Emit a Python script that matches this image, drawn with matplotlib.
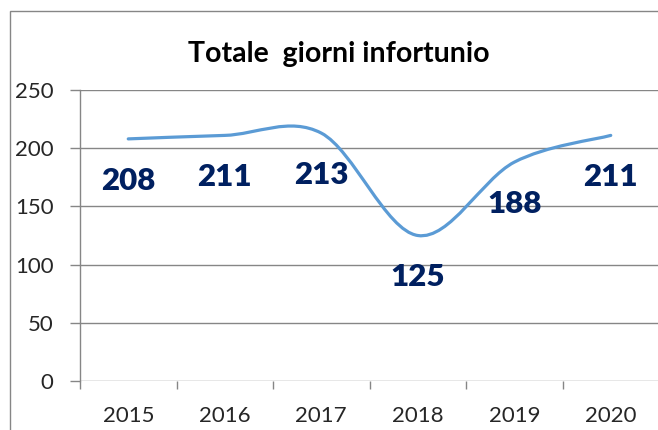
import matplotlib
matplotlib.use("Agg")
import matplotlib.pyplot as plt
from matplotlib.path import Path
from matplotlib.patches import PathPatch, Rectangle

# dati
anni = ["2015", "2016", "2017", "2018", "2019", "2020"]
giorni = [208, 211, 213, 125, 188, 211]

plt.rcParams['font.family'] = ['Lato', 'DejaVu Sans']

fig = plt.figure(figsize=(6.58, 4.30), dpi=100)
ax = fig.add_axes([80 / 658, 49 / 430, 579 / 658, 291 / 430])

grigio = '#868686'

# curva smussata tipo Excel (Bezier con tangenti Catmull-Rom)
n = len(giorni)
xs = list(range(n))
verts = [(xs[0], giorni[0])]
codes = [Path.MOVETO]
for i in range(n - 1):
    y0 = giorni[i - 1] if i > 0 else giorni[i]
    y3 = giorni[i + 2] if i + 2 < n else giorni[i + 1]
    x0 = xs[i - 1] if i > 0 else xs[i]
    x3 = xs[i + 2] if i + 2 < n else xs[i + 1]
    t1 = ((xs[i + 1] - x0) / 6, (giorni[i + 1] - y0) / 6)
    t2 = ((x3 - xs[i]) / 6, (y3 - giorni[i]) / 6)
    verts += [(xs[i] + t1[0], giorni[i] + t1[1]),
              (xs[i + 1] - t2[0], giorni[i + 1] - t2[1]),
              (xs[i + 1], giorni[i + 1])]
    codes += [Path.CURVE4] * 3
curva = PathPatch(Path(verts, codes), fill=False, edgecolor='#5B9BD5',
                  lw=2.3, capstyle='round', joinstyle='round', zorder=3)
ax.add_patch(curva)

for i, v in enumerate(giorni):
    ax.annotate(str(v), (i, v), xytext=(0, -30), textcoords='offset points',
                ha='center', va='center', fontsize=22.5, fontweight='heavy',
                color='#002060', zorder=4)

ax.set_xlim(-0.5, n - 0.5)
ax.set_ylim(0, 250)
ax.set_yticks(range(0, 251, 50))
ax.set_xticks(xs)
ax.set_xticklabels(anni)
ax.set_xticks([i - 0.5 for i in range(n + 1)], minor=True)

ax.grid(axis='y', color=grigio, lw=1)
ax.set_axisbelow(True)
for s in ['top', 'right', 'bottom']:
    ax.spines[s].set_visible(False)
ax.spines['left'].set_color(grigio)
ax.spines['left'].set_linewidth(1)

ax.tick_params(axis='y', length=7.2, width=1, color=grigio, pad=12,
               labelsize=16, labelcolor='#262626')
ax.tick_params(axis='x', which='major', length=0, pad=18,
               labelsize=16, labelcolor='#262626')
ax.tick_params(axis='x', which='minor', length=6, width=1, color=grigio)

fig.text(339 / 658, 1 - 62 / 430, "Totale  giorni infortunio", ha='center',
         va='baseline', fontsize=20.5, fontweight='bold', color='black')

# bordo del grafico
fig.patches.append(Rectangle((10 / 658, -0.1), 1.2, 1 - 11 / 430 + 0.1,
                             transform=fig.transFigure, fill=False,
                             edgecolor=grigio, lw=1))

fig.savefig("out.png", dpi=100)
